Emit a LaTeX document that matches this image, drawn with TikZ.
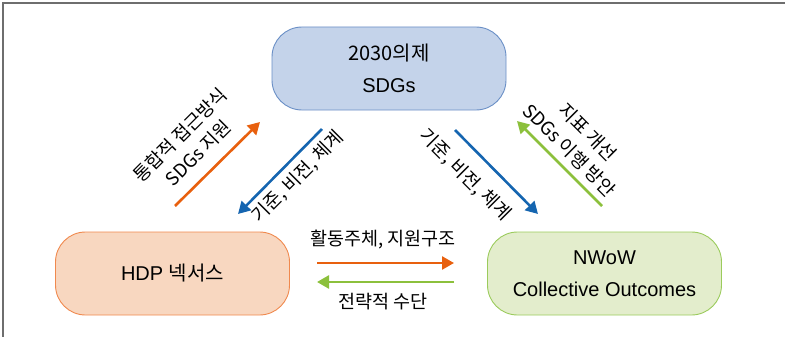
\documentclass[tikz,border=0pt]{standalone}
\usepackage{fontspec}
\setmainfont{Liberation Sans}
\newfontfamily\kr{Noto Sans CJK KR}
\usetikzlibrary{arrows.meta}
\definecolor{sdgfill}{HTML}{C4D3EA}
\definecolor{sdgline}{HTML}{6A8FC6}
\definecolor{hdpfill}{HTML}{F8D7C0}
\definecolor{hdpline}{HTML}{F0894E}
\definecolor{nwowfill}{HTML}{E3EDCC}
\definecolor{nwowline}{HTML}{9BCB5C}
\definecolor{arrorange}{HTML}{E8600E}
\definecolor{arrblue}{HTML}{1565B0}
\definecolor{arrgreen}{HTML}{8CC03C}
\definecolor{framegray}{HTML}{6E6E6E}
\tikzset{
  box/.style={rounded corners=30pt, minimum width=234pt, minimum height=83pt,
    line width=0.9pt, align=center, font=\fontsize{20}{32}\selectfont, inner sep=0pt},
  flow/.style={line width=2.6pt, -{Triangle[length=12pt,width=13pt]}},
  lbl/.style={align=center, font=\kr\fontsize{18.5}{26}\selectfont, inner sep=0pt}
}
\begin{document}
\begin{tikzpicture}[x=1pt,y=-1pt]
\useasboundingbox (0,0) rectangle (785,337);
% outer frame (top and left rules)
\draw[framegray, line width=2pt] (2.5,337) -- (2.5,3.5) -- (785,3.5);

% the three actors
\node[box, fill=sdgfill, draw=sdgline] (sdg) at (389,68.5) {{\kr 2030의제}\\SDGs};
\node[box, fill=hdpfill, draw=hdpline] (hdp) at (172.5,273.5) {HDP {\kr 넥서스}};
\node[box, fill=nwowfill, draw=nwowline] (nwow) at (604.5,273.5) {NWoW\\Collective Outcomes};

% arrow end points
\coordinate (oA) at (175,206);  \coordinate (oB) at (260,122);
\coordinate (bA) at (322,129);  \coordinate (bB) at (238,214);
\coordinate (cA) at (455,130);  \coordinate (cB) at (538,214);
\coordinate (gA) at (602,206);  \coordinate (gB) at (517,121);
\coordinate (hA) at (317,263);  \coordinate (hB) at (454,263);
\coordinate (kA) at (454,282);  \coordinate (kB) at (317,282);

\draw[flow, arrorange] (oA) -- (oB);
\draw[flow, arrblue] (bA) -- (bB);
\draw[flow, arrblue] (cA) -- (cB);
\draw[flow, arrgreen] (gA) -- (gB);
\draw[flow, arrorange] (hA) -- (hB);
\draw[flow, arrgreen] (kA) -- (kB);

% labels
\node[lbl, rotate=45] (l1) at (189,144) {통합적 접근방식\\SDGs 지원};
\node[lbl, rotate=45] (l2) at (298,177) {기준, 비전, 체계};
\node[lbl, rotate=-45] (l3) at (465,175) {기준, 비전, 체계};
\node[lbl, rotate=-45] (l4) at (579,141) {지표 개선\\SDGs 이행 방안};
\node[lbl] (l5) at (383,240) {활동주체, 지원구조};
\node[lbl] (l6) at (383,302) {전략적 수단};
\end{tikzpicture}
\end{document}
